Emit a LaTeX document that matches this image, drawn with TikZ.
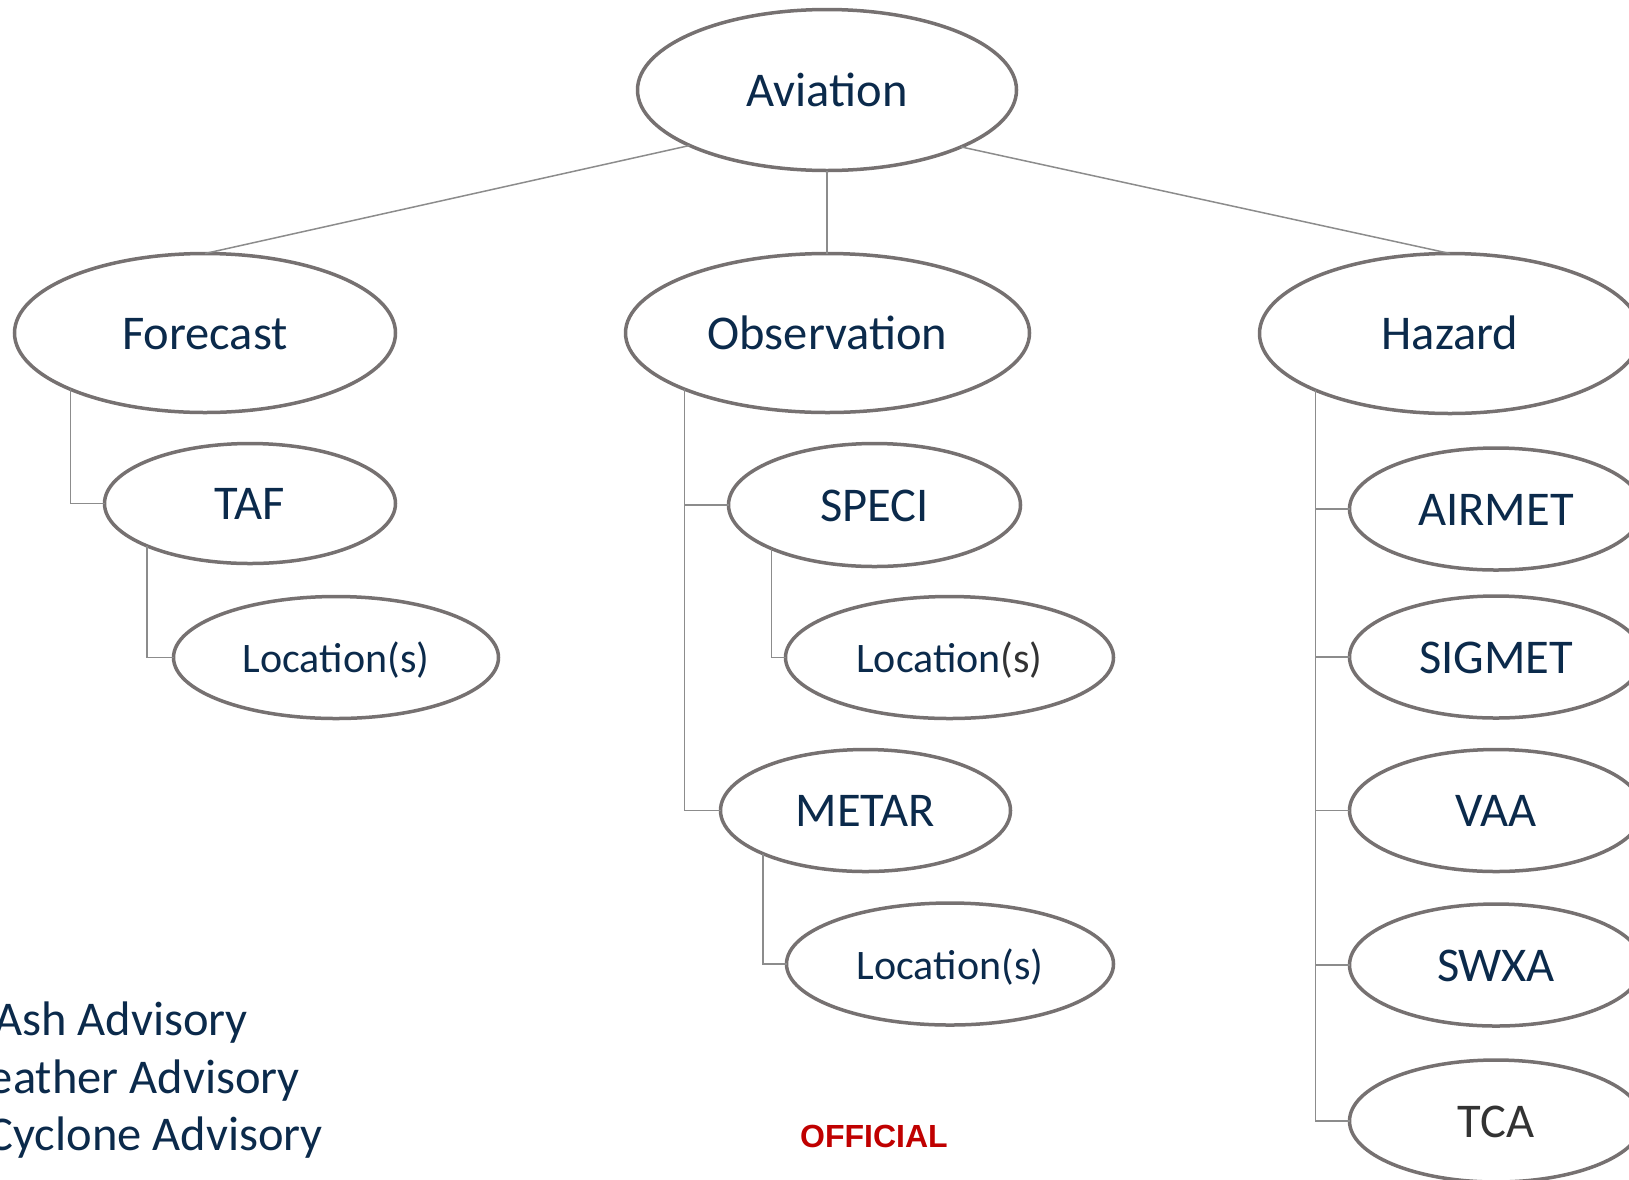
\documentclass[tikz,border=0pt]{standalone}
\usepackage{fontspec}
\setmainfont{Carlito}
\newfontfamily\arialfont{Liberation Sans}
\usetikzlibrary{shapes.geometric}
\definecolor{navy}{HTML}{0B2A4B}
\definecolor{ellgray}{HTML}{767171}
\definecolor{linegray}{HTML}{8C8C8C}
\definecolor{darktext}{HTML}{333333}
\definecolor{offred}{HTML}{C00000}
\begin{document}
\begin{tikzpicture}[x=1pt,y=-1pt,
  ell/.style={ellipse, draw=ellgray, line width=3.5pt, fill=white, inner sep=0pt, outer sep=0pt,
    font=\fontsize{48.5}{52}\selectfont, text=navy, text height=32pt, text depth=0pt},
  big/.style={ell, minimum width=381pt, minimum height=159pt},
  mid/.style={ell, minimum width=290pt, minimum height=122pt},
  loc/.style={ell, minimum width=327pt, minimum height=122pt, font=\fontsize{42}{46}\selectfont, text height=30pt},
  haz/.style={ell, minimum width=293pt, minimum height=122pt},
  link/.style={draw=linegray, line width=1.5pt},
  sidetext/.style={anchor=base east, inner sep=0pt, font=\fontsize{48.5}{52}\selectfont, text=navy}]
\useasboundingbox (0,0) rectangle (1629,1179);
\clip (0,0) rectangle (1629,1179);
% nodes
\node[big, minimum width=379pt, minimum height=161pt] (aviation) at (827,90) {Aviation};
\node[big] (forecast) at (205,333) {Forecast};
\node[big, minimum width=404pt, minimum height=159pt] (observation) at (827.5,333) {Observation};
\node[big, minimum height=160pt] (hazard) at (1450,333.5) {Hazard};
\node[mid, minimum width=291pt, minimum height=120pt] (taf) at (250,503.5) {TAF};
\node[loc, minimum width=325pt] (loc1) at (336,657.5) {Location(s)};
\node[mid, minimum width=292pt, minimum height=123pt] (speci) at (874.5,505) {SPECI};
\node[loc, minimum width=328pt] (loc2) at (949.5,657.5) {Location\textcolor{darktext}{(s)}};
\node[mid] (metar) at (865.5,810.5) {METAR};
\node[loc] (loc3) at (950,964) {Location(s)};
\node[haz] (airmet) at (1496,509) {AIRMET};
\node[haz] (sigmet) at (1496,657) {SIGMET};
\node[haz] (vaa) at (1496,810.5) {VAA};
\node[haz] (swxa) at (1496,965) {SWXA};
\node[haz, text=darktext] (tca) at (1496,1121) {TCA};
% connectors
\draw[link] (aviation.202.6) -- (forecast.north);
\draw[link] (aviation.south) -- (aviation.south |- observation.north);
\draw[link] (aviation.337.5) -- (hazard.north);
\draw[link] (forecast.south west) |- (taf.west);
\draw[link] (taf.south west) |- (loc1.west);
\draw[link] (observation.south west) |- (speci.west);
\draw[link] (observation.south west) |- (metar.west);
\draw[link] (speci.south west) |- (loc2.west);
\draw[link] (metar.south west) |- (loc3.west);
\draw[link] (hazard.south west) |- (airmet.west);
\draw[link] (hazard.south west) |- (sigmet.west);
\draw[link] (hazard.south west) |- (vaa.west);
\draw[link] (hazard.south west) |- (swxa.west);
\draw[link] (hazard.south west) |- (tca.west);
% side texts
\node[sidetext] (t1) at (248,1035) {Ash Advisory};
\node[sidetext] (t2) at (300,1093) {eather Advisory};
\node[sidetext] (t3) at (323,1150) {Cyclone Advisory};
\node[anchor=base, inner sep=0pt, font=\arialfont\bfseries\fontsize{32}{36}\selectfont, text=offred] (official) at (874,1147) {OFFICIAL};
\end{tikzpicture}
\end{document}
